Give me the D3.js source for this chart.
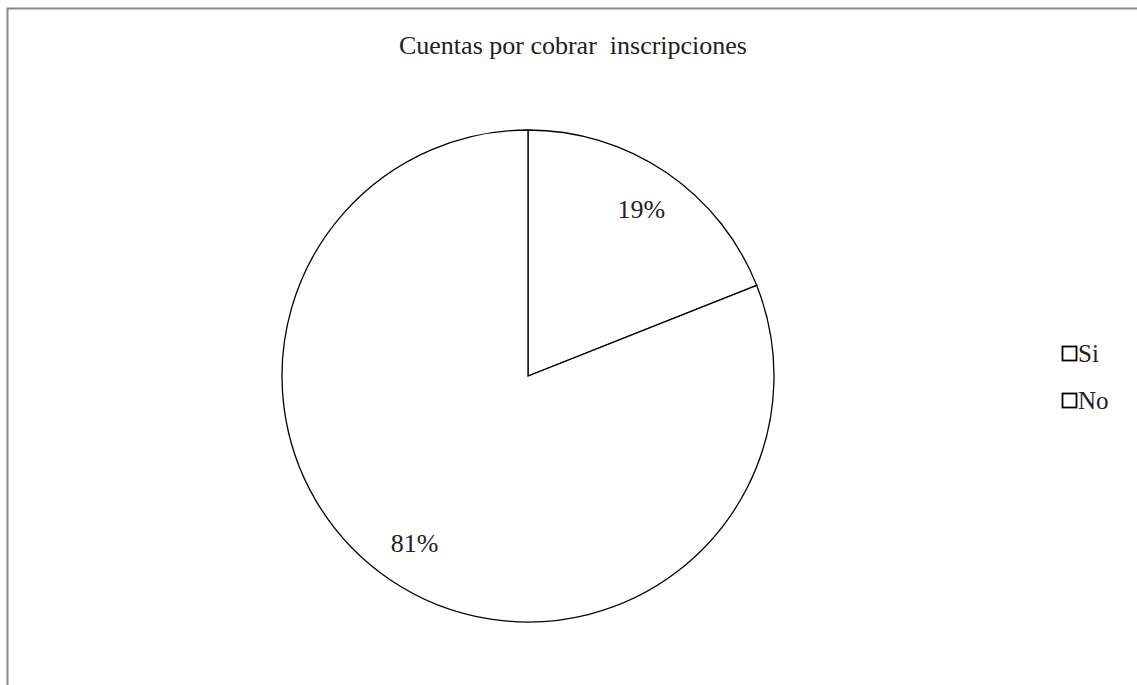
<!DOCTYPE html>
<html>
<head>
<meta charset="utf-8">
<script src="https://cdn.jsdelivr.net/npm/d3@7"></script>
<style>
  body { margin: 0; background: #fff; }
</style>
</head>
<body>
<svg id="chart" width="1137" height="685"></svg>
<script>
// chart data
var categories = ["Si", "No"];
var values = [19, 81];
var labels = ["19%", "81%"];

var serif = "'Liberation Serif', 'DejaVu Serif', serif";

var svg = d3.select("#chart");

// frame border (only top and left visible in the crop)
svg.append("rect")
    .attr("x", 7.5).attr("y", 8.5)
    .attr("width", 1200).attr("height", 800)
    .attr("fill", "none")
    .attr("stroke", "#888")
    .attr("stroke-width", 2);

// title
svg.append("text")
    .attr("x", 573).attr("y", 54)
    .attr("text-anchor", "middle")
    .attr("font-family", serif)
    .attr("font-size", 26)
    .attr("fill", "#222")
    .style("white-space", "pre")
    .text("Cuentas por cobrar  inscripciones");

var cx = 528, cy = 376, radius = 246;

var pie = d3.pie().sort(null).value(function(d) { return d; });
var arc = d3.arc().innerRadius(0).outerRadius(radius);
var labelArc = d3.arc().innerRadius(radius * 0.82).outerRadius(radius * 0.82);

var g = svg.append("g").attr("transform", "translate(" + cx + "," + cy + ")");

var slices = g.selectAll("g.slice")
    .data(pie(values))
    .enter().append("g")
    .attr("class", "slice");

slices.append("path")
    .attr("d", arc)
    .attr("fill", "#fff")
    .attr("stroke", "#000")
    .attr("stroke-width", 1.3);

slices.append("text")
    .attr("transform", function(d) { return "translate(" + labelArc.centroid(d) + ")"; })
    .attr("text-anchor", "middle")
    .attr("dy", "0.35em")
    .attr("font-family", serif)
    .attr("font-size", 26)
    .attr("fill", "#222")
    .text(function(d, i) { return labels[i]; });

// legend
var legend = svg.append("g").attr("transform", "translate(1062,346)");
var item = legend.selectAll("g")
    .data(categories)
    .enter().append("g")
    .attr("transform", function(d, i) { return "translate(0," + (i * 47) + ")"; });

item.append("rect")
    .attr("x", 0.5).attr("y", 0.5)
    .attr("width", 14).attr("height", 14)
    .attr("fill", "#fff")
    .attr("stroke", "#000")
    .attr("stroke-width", 1.8);

item.append("text")
    .attr("x", 16).attr("y", 16)
    .attr("font-family", serif)
    .attr("font-size", 25)
    .attr("fill", "#222")
    .text(function(d) { return d; });
</script>
</body>
</html>
